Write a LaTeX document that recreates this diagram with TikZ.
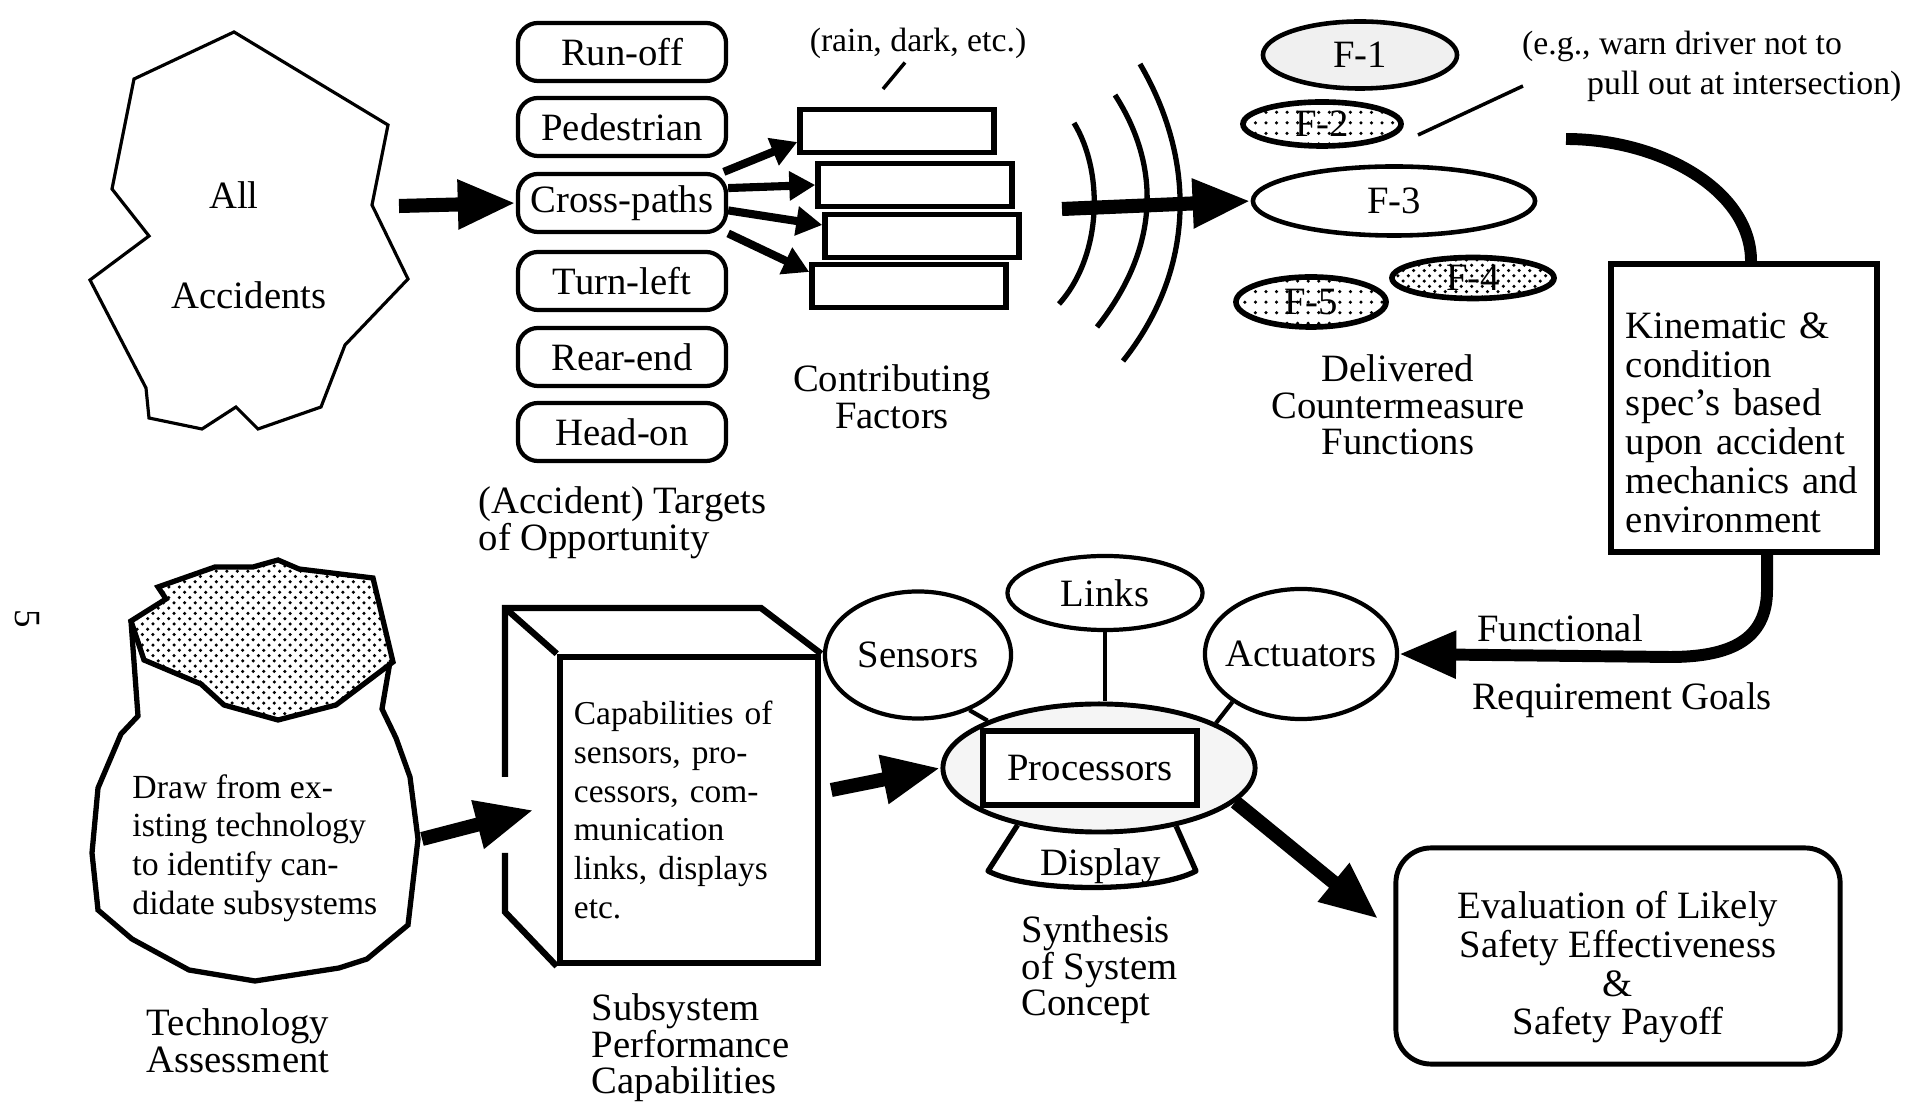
\documentclass[tikz,border=0pt]{standalone}
\usepackage{fontspec}
\setmainfont{Liberation Serif}
\usetikzlibrary{shapes.geometric,arrows.meta,patterns}

\begin{document}
\begin{tikzpicture}[x=0.01cm,y=-0.01cm,
        every node/.style={font=\fontsize{11}{10.4}\selectfont},
        target/.style={draw,line width=1.2pt,rounded corners=0.2cm,minimum width=2.08cm,minimum height=0.58cm,inner sep=0pt},
        factor/.style={draw,line width=1.5pt,minimum width=1.94cm,minimum height=0.43cm},
        func/.style={ellipse,draw,line width=1.3pt,inner sep=0pt},
        part/.style={ellipse,draw,line width=1.2pt,inner sep=0pt,fill=white},
        fat/.style={line width=4pt,-{Triangle[length=0.58cm,width=0.46cm]}},
        slim/.style={line width=2.3pt,-{Triangle[length=0.26cm,width=0.28cm]}},
        note/.style={font=\fontsize{9.6}{11}\selectfont,inner sep=1pt},
        caption/.style={align=center,inner sep=0pt}
    ]
        \useasboundingbox (0,0) rectangle (1924,1104);

        % accidents and targets
        \draw[line width=0.9pt] (234,32) -- (388,125) -- (372,205) -- (408,279) -- (345,345)
            -- (321,407) -- (258,429) -- (236,407) -- (202,429) -- (149,418) -- (146,388)
            -- (90,280) -- (149,236) -- (112,189) -- (134,79) -- cycle;
        \node (all) at (234,195) {All};
        \node (acc) at (249,295) {Accidents};
        \coordinate (accout) at (399,206);

        \node[target] (runoff) at (622,52) {Run-off};
        \node[target] (ped) at (622,127) {Pedestrian};
        \node[target] (cross) at (622,203) {Cross-paths};
        \node[target] (turn) at (622,281) {Turn-left};
        \node[target] (rear) at (622,357) {Rear-end};
        \node[target] (head) at (622,432) {Head-on};
        \node[caption,anchor=west,align=left] (tgtcap) at (478,523) {(Accident) Targets\\of Opportunity};
        \draw[fat] (accout) -- (cross.west);

        \node[factor] (cf1) at (897,131) {};
        \node[factor] (cf2) at (915,185) {};
        \node[factor] (cf3) at (922,236) {};
        \node[factor] (cf4) at (909,286) {};
        \draw[slim] (cross.17) -- ([yshift=-0.11cm]cf1.west);
        \draw[slim] (cross.8) -- (cf2.west);
        \draw[slim] (cross.-4) -- ([yshift=0.11cm]cf3.west);
        \draw[slim] (cross.-16) -- ([yshift=0.14cm]cf4.west);
        \node[note] (rain) at (918,43) {(rain, dark, etc.)};
        \coordinate (rainend) at (883,89);
        \draw[line width=1pt] ([xshift=-0.13cm]rain.south) -- (rainend);
        \node[caption] (cfcap) at (892,397) {Contributing\\Factors};

        % waves
        \draw[line width=1.5pt] (1074,123) .. controls (1104,172) and (1102,256) .. (1059,304);
        \draw[line width=1.5pt] (1115,95) .. controls (1160,165) and (1161,246) .. (1097,327);
        \draw[line width=1.5pt] (1140,64) .. controls (1196,160) and (1196,269) .. (1123,361);
        \coordinate (wave) at (1062,209);

        % countermeasure functions
        \node[func,fill=gray!12,minimum width=1.94cm,minimum height=0.67cm] (f1) at (1360,55) {F-1};
        \node[func,pattern=dots,line width=1.6pt,minimum width=1.58cm,minimum height=0.44cm] (f2) at (1322,124) {F-2};
        \node[func,minimum width=2.82cm,minimum height=0.69cm] (f3) at (1394,201) {F-3};
        \node[func,pattern=crosshatch dots,line width=1.6pt,minimum width=1.62cm,minimum height=0.41cm] (f4) at (1473,278) {F-4};
        \node[func,pattern=dots,line width=1.6pt,minimum width=1.5cm,minimum height=0.5cm] (f5) at (1311,302) {F-5};
        \draw[fat] (wave) -- (f3.west);
        \node[note,anchor=west] (note1) at (1518,46) {(e.g., warn driver not to};
        \node[note,anchor=west] (note2) at (1583,86) {pull out at intersection)};
        \coordinate (f2tip) at (1418,135);
        \draw[line width=1pt] (f2tip) -- ([xshift=-0.6cm]note2.west);
        \node[caption] (delcap) at (1398,405) {Delivered\\Countermeasure\\Functions};

        % kinematic spec
        \node[draw,line width=1.6pt,minimum width=2.66cm,minimum height=2.88cm,text width=2.36cm,align=left,
            font=\fontsize{11}{11}\selectfont] (kin) at (1744,408)
            {\rule{0pt}{0.55cm}Kinematic \&\\condition\\spec's based\\upon accident\\mechanics and\\environment};
        \coordinate (kinfeed) at (1566,139);
        \draw[line width=3.4pt] (kinfeed) .. controls (1660,139) and (1751,190) .. ([xshift=0.07cm]kin.north);

        % system concept
        \node[ellipse,draw,line width=1.4pt,fill=gray!8,minimum width=3.12cm,minimum height=1.28cm,inner sep=0pt] (procell) at (1099,768) {};
        \node[draw,line width=1.7pt,fill=white,minimum width=2.13cm,minimum height=0.73cm] (proc) at (1090,768) {Processors};
        \node[part,minimum width=1.86cm,minimum height=1.27cm] (sens) at (918,655) {Sensors};
        \node[part,minimum width=1.95cm,minimum height=0.74cm] (links) at (1105,593) {Links};
        \node[part,minimum width=1.92cm,minimum height=1.3cm] (act) at (1301,654) {\makebox[0pt]{Actuators}};
        \draw[line width=1.2pt] (sens.-47) -- (procell.157);
        \draw[line width=1.2pt] (links.south) -- (links.south |- procell.north);
        \draw[line width=1.2pt] (act.-145) -- (procell.21);
        \coordinate (dispL) at (988,871);
        \coordinate (dispR) at (1196,871);
        \draw[line width=1.5pt,line join=round] (procell.-145) -- (dispL) .. controls (1030,893) and (1155,893) .. (dispR) -- (procell.-37);
        \node (disp) at (1101,866) {Display};
        \node[caption,anchor=west,align=left] (syncap) at (1021,970) {Synthesis\\of System\\Concept};

        \draw[line width=3.4pt,-{Triangle[length=0.57cm,width=0.45cm]}] ([xshift=0.23cm]kin.south) -- (1767,590)
            .. controls (1767,640) and (1730,657) .. (1670,657) -- (act.east);
        \node (funcA) at (1560,628) {Functional};
        \node (funcB) at (1622,700) {Requirement Goals};

        % technology assessment
        \draw[line width=1.5pt] (131,621) -- (138,716) -- (121,734) -- (98,788) -- (92,853) -- (98,910)
            -- (132,939) -- (189,970) -- (255,981) -- (339,968) -- (367,959) -- (408,925) -- (418,839)
            -- (410,777) -- (396,738) -- (382,709) -- (390,662);
        \draw[line width=1.5pt,pattern=crosshatch dots] (158,587) -- (166,599) -- (131,621) -- (144,660)
            -- (201,684) -- (224,705) -- (278,720) -- (336,705) -- (393,662) -- (373,578) -- (299,569)
            -- (278,560) -- (253,567) -- (215,567) -- cycle;
        \node[anchor=west,align=left,font=\fontsize{9.6}{11}\selectfont] (techtxt) at (120,848)
            {Draw from ex-\\isting technology\\to identify can-\\didate subsystems};
        \node[caption] (techcap) at (238,1041) {Technology\\Assessment};
        \coordinate (techout) at (422,839);
        \node[rotate=-90,font=\fontsize{10.5}{12}\selectfont] (pnum) at (27,619) {5};

        % subsystem box
        \node[draw,line width=1.8pt,minimum width=2.58cm,minimum height=3.06cm,text width=2.3cm,align=left,
            font=\fontsize{9.5}{11}\selectfont] (subsys) at (689,810)
            {Capabilities of\\sensors, pro-\\cessors, com-\\munication\\links, displays\\etc.};
        \draw[line width=1.8pt] (505,777) -- (505,608) -- (761,608) -- (subsys.north east);
        \draw[line width=1.8pt] (505,608) -- (subsys.north west);
        \draw[line width=1.8pt] (505,853) -- (505,912) -- (subsys.south west);
        \node[caption,anchor=west,align=left] (subcap) at (591,1048) {Subsystem\\Performance\\Capabilities};
        \draw[fat] (techout) -- ([xshift=-0.23cm]subsys.west);
        \draw[fat] ([xshift=0.1cm,yshift=0.2cm]subsys.east) -- (procell.west);

        % evaluation
        \node[draw,line width=1.4pt,rounded corners=0.35cm,minimum width=4.44cm,minimum height=2.16cm,align=center,
            font=\fontsize{11}{11}\selectfont] (eval) at (1618,956)
            {\rule{0pt}{0.5cm}Evaluation of Likely\\Safety Effectiveness\\\&\\Safety Payoff};
        \draw[fat] (procell.-14) -- ([xshift=-0.15cm,yshift=0.37cm]eval.west);
    \end{tikzpicture}
\end{document}
